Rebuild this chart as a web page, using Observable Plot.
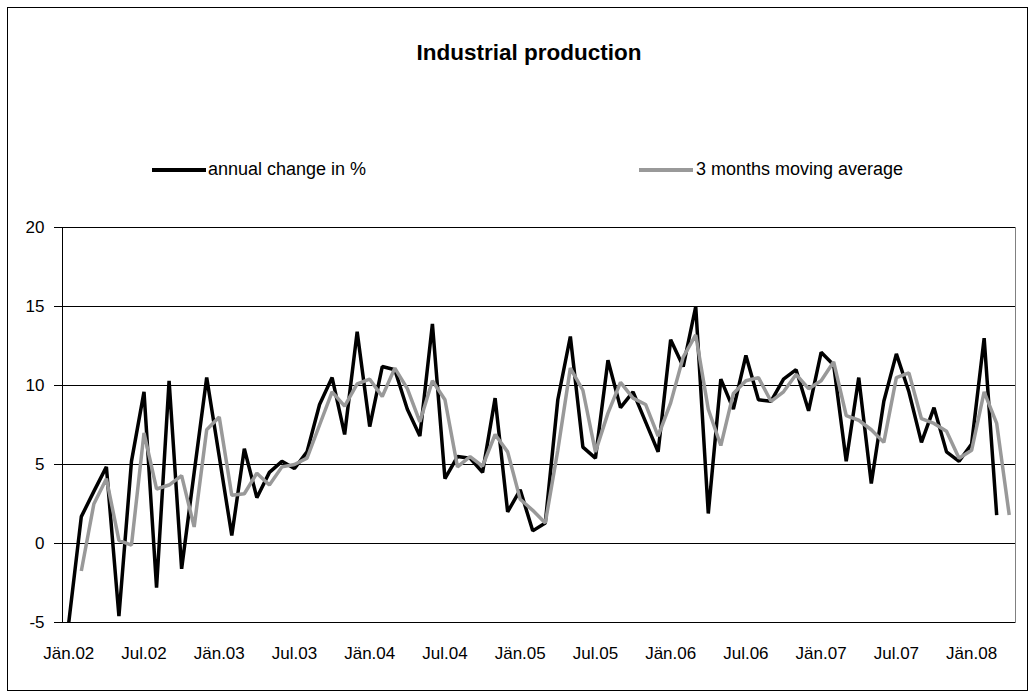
<!DOCTYPE html>
<html>
<head>
<meta charset="utf-8">
<script src="https://cdn.jsdelivr.net/npm/d3@7"></script>
<script src="https://cdn.jsdelivr.net/npm/@observablehq/plot@0.6"></script>
<style>
  html, body { margin: 0; padding: 0; background: #fff; }
  body { font-family: "Liberation Sans", Arial, sans-serif; color: #000; width: 1035px; height: 700px; position: relative; overflow: hidden; }
  #frame { position: absolute; left: 7px; top: 7px; width: 1021px; height: 684px; border: 1px solid #000; box-sizing: border-box; }
  #title { position: absolute; left: 0; width: 1058px; top: 42px; text-align: center; font-weight: bold; font-size: 22.5px; line-height: 22px; white-space: nowrap; }
  .swatch { position: absolute; height: 4px; top: 168px; }
  .legtext { position: absolute; top: 160px; font-size: 18px; line-height: 18px; white-space: nowrap; }
  #chart { position: absolute; left: 0; top: 200px; }
</style>
</head>
<body>
<div id="frame"></div>
<div id="title">Industrial production</div>
<div class="swatch" style="left:152px;width:54px;background:#000;"></div>
<div class="legtext" style="left:208px;">annual change in %</div>
<div class="swatch" style="left:639px;width:54px;background:#999;"></div>
<div class="legtext" style="left:696px;">3 months moving average</div>
<div id="chart"></div>
<script>
// Categories: monthly, Jan 2002 – Apr 2008
const months = [
  "Jän.02","Feb.02","Mär.02","Apr.02","Mai.02","Jun.02","Jul.02","Aug.02","Sep.02","Okt.02","Nov.02","Dez.02",
  "Jän.03","Feb.03","Mär.03","Apr.03","Mai.03","Jun.03","Jul.03","Aug.03","Sep.03","Okt.03","Nov.03","Dez.03",
  "Jän.04","Feb.04","Mär.04","Apr.04","Mai.04","Jun.04","Jul.04","Aug.04","Sep.04","Okt.04","Nov.04","Dez.04",
  "Jän.05","Feb.05","Mär.05","Apr.05","Mai.05","Jun.05","Jul.05","Aug.05","Sep.05","Okt.05","Nov.05","Dez.05",
  "Jän.06","Feb.06","Mär.06","Apr.06","Mai.06","Jun.06","Jul.06","Aug.06","Sep.06","Okt.06","Nov.06","Dez.06",
  "Jän.07","Feb.07","Mär.07","Apr.07","Mai.07","Jun.07","Jul.07","Aug.07","Sep.07","Okt.07","Nov.07","Dez.07",
  "Jän.08","Feb.08","Mär.08","Apr.08"
];

// Tick labels shown on the x axis
const tickLabels = ["Jän.02","Jul.02","Jän.03","Jul.03","Jän.04","Jul.04","Jän.05","Jul.05","Jän.06","Jul.06","Jän.07","Jul.07","Jän.08"];
const yTicks = [-5, 0, 5, 10, 15, 20];

// annual change in % (Jän.02 – Mär.08)
const annualChange = [
  -5.0, 1.7, 3.3, 4.85, -4.6, 5.2, 9.6, -2.8, 10.3, -1.6, 4.5, 10.5,
  5.5, 0.5, 6.0, 2.9, 4.5, 5.2, 4.75, 5.8, 8.8, 10.5, 6.9, 13.4,
  7.4, 11.2, 11.0, 8.5, 6.8, 13.9, 4.1, 5.5, 5.4, 4.5, 9.2, 2.0,
  3.4, 0.8, 1.3, 9.1, 13.1, 6.1, 5.4, 11.6, 8.6, 9.6, 7.7, 5.8,
  12.9, 11.2, 15.0, 1.9, 10.4, 8.5, 11.9, 9.1, 9.0, 10.4, 11.0, 8.4,
  12.1, 11.3, 5.2, 10.5, 3.8, 9.0, 12.0, 9.6, 6.4, 8.6, 5.8, 5.2,
  6.3, 13.0, 1.8
];

// 3 months moving average (Feb.02 – Apr.08)
const movingAverage = [
  -1.74, 2.5, 4.1, 0.2, -0.1, 7.0, 3.45, 3.7, 4.3, 1.05, 7.2,
  8.0, 3.05, 3.15, 4.45, 3.7, 4.85, 5.0, 5.4, 7.5, 9.6, 8.7, 10.1,
  10.4, 9.3, 11.1, 9.8, 7.7, 10.3, 9.1, 4.85, 5.5, 4.9, 6.9, 5.8,
  2.8, 2.1, 1.3, 5.9, 11.1, 9.7, 5.8, 8.25, 10.2, 9.2, 8.8, 6.8,
  8.9, 11.8, 13.2, 8.5, 6.2, 9.5, 10.3, 10.5, 9.0, 9.6, 10.7, 9.8,
  10.3, 11.5, 8.1, 7.8, 7.2, 6.4, 10.5, 10.8, 7.9, 7.6, 7.1, 5.4,
  5.9, 9.6, 7.6, 1.8
];

const annualData = annualChange.map((v, i) => ({month: months[i], value: v}));
const maData = movingAverage.map((v, i) => ({month: months[i + 1], value: v}));

const leftLine = (index, scales, values, dims) => {
  const g = d3.create("svg:line")
    .attr("x1", dims.marginLeft + 0.5).attr("x2", dims.marginLeft + 0.5)
    .attr("y1", dims.marginTop).attr("y2", dims.height - dims.marginBottom)
    .attr("stroke", "#000").attr("stroke-width", 1);
  return g.node();
};

const chart = Plot.plot({
  width: 1035,
  height: 480,
  marginTop: 27,
  marginBottom: 58,
  marginLeft: 62,
  marginRight: 20,
  style: {fontFamily: "'Liberation Sans', Arial, sans-serif", fontSize: "17px", color: "#000", background: "transparent"},
  x: {type: "point", domain: months, padding: 0.5},
  y: {domain: [-5, 20]},
  marks: [
    Plot.frame({stroke: "#808080"}),
    Plot.ruleY([0, 5, 10, 15, 20, -5], {stroke: "#000", strokeWidth: 1}),
    leftLine,
    Plot.axisY({ticks: yTicks, tickSize: 8, tickPadding: 10, tickFormat: d => String(d), label: null, stroke: "#000"}),
    Plot.axisX({ticks: tickLabels, tickSize: 0, tickPadding: 24, label: null}),
    Plot.line(annualData, {x: "month", y: "value", stroke: "#000", strokeWidth: 3.5, strokeLinejoin: "miter", strokeLinecap: "butt"}),
    Plot.line(maData, {x: "month", y: "value", stroke: "#999", strokeWidth: 3.5, strokeLinejoin: "miter", strokeLinecap: "butt"})
  ]
});
document.getElementById("chart").appendChild(chart);
</script>
</body>
</html>
